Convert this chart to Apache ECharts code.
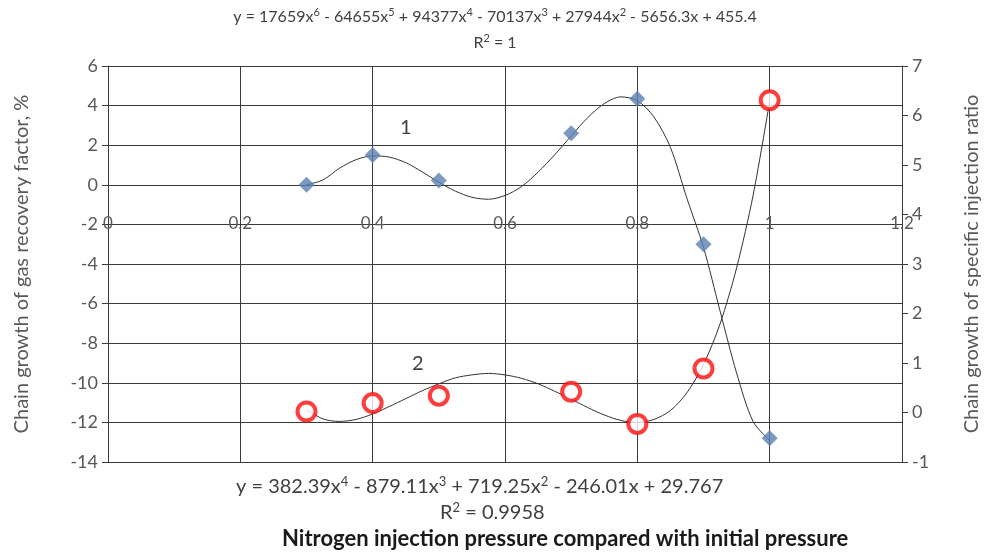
<!DOCTYPE html>
<html>
<head>
<meta charset="utf-8">
<script src="https://cdn.jsdelivr.net/npm/echarts@6/dist/echarts.min.js"></script>
<style>html,body{margin:0;padding:0;background:#fff}#c{width:990px;height:552px}</style>
</head>
<body>
<div id="c"></div>
<script>
// Measured points
var pointsX = [0.3, 0.4, 0.5, 0.7, 0.8, 0.9, 1.0];
var gasRecovery = [0.0, 1.5, 0.22, 2.6, 4.35, -3.0, -12.8];      // series 1, left axis
var injectionRatio = [0.02, 0.19, 0.34, 0.42, -0.23, 0.89, 6.31]; // series 2, right axis

// Trendline curves
var trend1X = [0.3, 0.325, 0.35, 0.375, 0.4, 0.425, 0.45, 0.475, 0.5, 0.525, 0.55, 0.575, 0.6, 0.625, 0.65, 0.675, 0.7, 0.725, 0.75, 0.775, 0.8, 0.825, 0.85, 0.875, 0.9, 0.925, 0.95, 0.975, 1.0];
var trend1Y = [0.0, 0.25, 0.84, 1.27, 1.46, 1.40, 1.12, 0.65, 0.13, -0.32, -0.63, -0.73, -0.54, -0.09, 0.64, 1.51, 2.47, 3.39, 4.1, 4.44, 4.25, 3.43, 1.89, -0.69, -3.16, -6.37, -9.5, -11.96, -12.9];
var trend2X = [0.3, 0.325, 0.35, 0.375, 0.4, 0.425, 0.45, 0.475, 0.5, 0.525, 0.55, 0.575, 0.6, 0.625, 0.65, 0.675, 0.7, 0.725, 0.75, 0.775, 0.8, 0.825, 0.85, 0.875, 0.9, 0.925, 0.95, 0.975, 1.0];
var trend2Y = [0.06, -0.13, -0.18, -0.14, -0.03, 0.12, 0.28, 0.44, 0.58, 0.70, 0.76, 0.79, 0.76, 0.69, 0.58, 0.43, 0.27, 0.10, -0.05, -0.16, -0.2, -0.14, 0.04, 0.40, 0.97, 1.79, 2.92, 4.39, 6.29];

// Axis ticks
var xTicks = {min: 0, max: 1.2, step: 0.2};
var leftTicks = {min: -14, max: 6, step: 2};
var rightTicks = {min: -1, max: 7, step: 1};

// Texts (^n marks a superscript digit)
var eqTop = 'y = 17659x^6 - 64655x^5 + 94377x^4 - 70137x^3 + 27944x^2 - 5656.3x + 455.4';
var r2Top = 'R^2 = 1';
var eqBottom = 'y = 382.39x^4 - 879.11x^3 + 719.25x^2 - 246.01x + 29.767';
var r2Bottom = 'R^2 = 0.9958';
var xTitle = 'Nitrogen injection pressure compared with initial pressure';
var leftTitle = 'Chain growth of gas recovery factor, %';
var rightTitle = 'Chain growth of specific injection ratio';
var label1 = '1', label2 = '2';

function pairs(xs, ys) { return xs.map(function (x, i) { return [x, ys[i]]; }); }
function sup(s) { return s.replace(/\^(\d)/g, '{s|$1}'); }

var FONT = 'Lato, "Open Sans", "Noto Sans", sans-serif';
function eqText(txt, size, supSize, pos) {
  var o = {
    type: 'text',
    style: {
      text: sup(txt), fill: '#404040', font: size + 'px ' + FONT,
      rich: {s: {fontSize: supSize, fontFamily: FONT, fill: '#404040', verticalAlign: 'top', lineHeight: size * 1.2}}
    }
  };
  for (var k in pos) o[k] = pos[k];
  return o;
}

var chart = echarts.init(document.getElementById('c'), null, {renderer: 'canvas'});
chart.setOption({
  animation: false,
  backgroundColor: '#fff',
  grid: {left: 108, right: 87, top: 66, bottom: 90},
  xAxis: {
    type: 'value', min: xTicks.min, max: xTicks.max, interval: xTicks.step,
    axisLine: {show: false}, axisTick: {show: false},
    splitLine: {show: true, lineStyle: {color: '#3a3a3a', width: 1}},
    axisLabel: {margin: -238, verticalAlign: 'middle', color: '#595959', fontSize: 17, fontFamily: FONT,
      showMinLabel: true, showMaxLabel: true}
  },
  yAxis: [{
    type: 'value', min: leftTicks.min, max: leftTicks.max, interval: leftTicks.step,
    position: 'left',
    axisLine: {show: true, lineStyle: {color: '#3a3a3a'}},
    axisTick: {show: true, length: 6, lineStyle: {color: '#3a3a3a'}},
    splitLine: {show: true, lineStyle: {color: '#3a3a3a', width: 1}},
    axisLabel: {color: '#595959', fontSize: 18, fontFamily: FONT, margin: 10},
    name: leftTitle, nameLocation: 'middle', nameRotate: 90, nameGap: 76,
    nameTextStyle: {color: '#595959', fontSize: 20, fontFamily: FONT}
  }, {
    type: 'value', min: rightTicks.min, max: rightTicks.max, interval: rightTicks.step,
    position: 'right',
    axisLine: {show: true, lineStyle: {color: '#3a3a3a'}},
    axisTick: {show: true, length: 6, lineStyle: {color: '#3a3a3a'}},
    splitLine: {show: false},
    axisLabel: {color: '#595959', fontSize: 18, fontFamily: FONT, margin: 10},
    name: rightTitle, nameLocation: 'middle', nameRotate: 90, nameGap: 60,
    nameTextStyle: {color: '#595959', fontSize: 20, fontFamily: FONT}
  }],
  series: [{
    type: 'line', yAxisIndex: 0, data: pairs(trend1X, trend1Y), smooth: 0.3,
    showSymbol: false, symbol: 'none', lineStyle: {color: '#333', width: 1}, silent: true, z: 2
  }, {
    type: 'line', yAxisIndex: 1, data: pairs(trend2X, trend2Y), smooth: 0.3,
    showSymbol: false, symbol: 'none', lineStyle: {color: '#333', width: 1}, silent: true, z: 2
  }, {
    type: 'scatter', yAxisIndex: 0, data: pairs(pointsX, gasRecovery),
    symbol: 'diamond', symbolSize: [16, 16], itemStyle: {color: '#5b7fb3'}, z: 3
  }, {
    type: 'scatter', yAxisIndex: 1, data: pairs(pointsX, injectionRatio),
    symbol: 'circle', symbolSize: 18,
    itemStyle: {color: '#fff', borderColor: '#ff0d0d', borderWidth: 4}, z: 3
  }],
  graphic: [
    eqText(eqTop, 16, 11, {left: 'center', top: 7}),
    eqText(r2Top, 16, 11, {left: 'center', top: 33}),
    eqText(eqBottom, 20, 13, {left: 236, top: 475}),
    eqText(r2Bottom, 20, 13, {left: 440, top: 501}),
    {type: 'text', left: 282, top: 528, style: {text: xTitle, fill: '#1a1a1a', font: 'bold 22px ' + FONT}},
    {type: 'text', left: 400, top: 118, style: {text: label1, fill: '#404040', font: '20px ' + FONT}},
    {type: 'text', left: 412, top: 354, style: {text: label2, fill: '#404040', font: '20px ' + FONT}}
  ]
});
</script>
</body>
</html>
